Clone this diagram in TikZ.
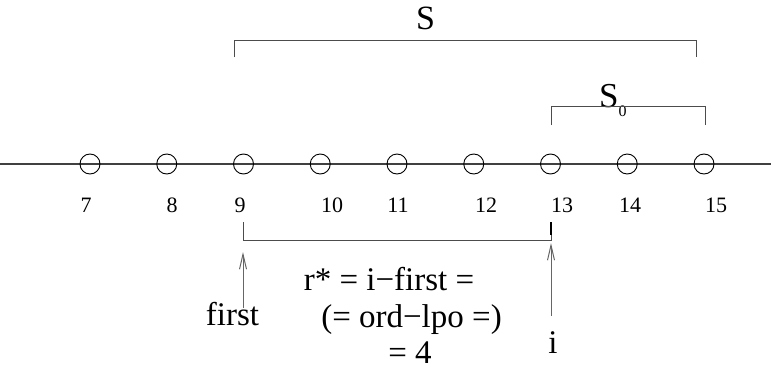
\documentclass[tikz,border=0pt]{standalone}
\usepackage{fontspec}
\setmainfont{Liberation Serif}
\usetikzlibrary{positioning, arrows.meta}

\begin{document}
\begin{tikzpicture}[x=1pt, y=-1pt,
      dot/.style={draw, circle, inner sep=0pt, minimum size=20pt, line width=0.9pt},
      num/.style={inner sep=0pt, anchor=base, font=\fontsize{22}{24}\selectfont},
      big/.style={inner sep=0pt, anchor=base, font=\fontsize{33}{36}\selectfont},
      brk/.style={line width=1pt, draw=black!70},
      arr/.style={line width=1pt, draw=black!60, -{Straight Barb[length=15pt, width=7pt]}}
    ]
    \useasboundingbox (0,0) rectangle (771,372);

    % axis and points
    \draw[line width=2pt, black!75] (0,164) -- (771,164);
    \foreach \k [count=\j from 0] in {7,...,15}
      \node[dot] (c\k) at (90+76.75*\j,164) {};

    % numbers
    \node[num] (n7) at (86,212) {7};
    \node[num] (n8) at (172,212) {8};
    \node[num] (n9) at (240,212) {9};
    \node[num] (n10) at (332,212) {10};
    \node[num] (n11) at (398,212) {11};
    \node[num] (n12) at (486,212) {12};
    \node[num] (n13) at (562,212) {13};
    \node[num] (n14) at (630,212) {14};
    \node[num] (n15) at (716,212) {15};

    % S bracket
    \node[big, font=\fontsize{34}{36}\selectfont] (s) at (425.5,29) {S};
    \draw[brk] (234,57) -- (234,40) -- (696,40) -- (696,57);

    % S_0 bracket
    \node[big, font=\fontsize{35}{36}\selectfont, anchor=base west] (s0) at (599,107) {S\raisebox{-9pt}{\fontsize{16}{18}\selectfont 0}};
    \draw[brk] (551,125) -- (551,106) -- (705,106) -- (705,125);

    % lower bracket
    \coordinate (bl) at (243,240);
    \coordinate (br) at (551,240);
    \draw[brk] (243,222) -- (bl) -- (br) -- (551,222);
    \draw[line width=2pt] (551,222) -- (551,235);

    % labels
    \node[big] (first) at (232.5,325) {first};
    \node[big] (ii) at (553,353) {i};
    \node[big] (rr) at (389,290) {r* = i−first =};
    \node[big] (ord) at (411.5,327) {(= ord−lpo =)};
    \node[big] (four) at (410,363) {= 4};

    \draw[arr] ([yshift=-6pt]first.north -| bl) -- ([yshift=-12pt]bl);
    \draw[arr] ([yshift=15pt]ii.north -| br) -- ([yshift=-3pt]br);
  \end{tikzpicture}
\end{document}
